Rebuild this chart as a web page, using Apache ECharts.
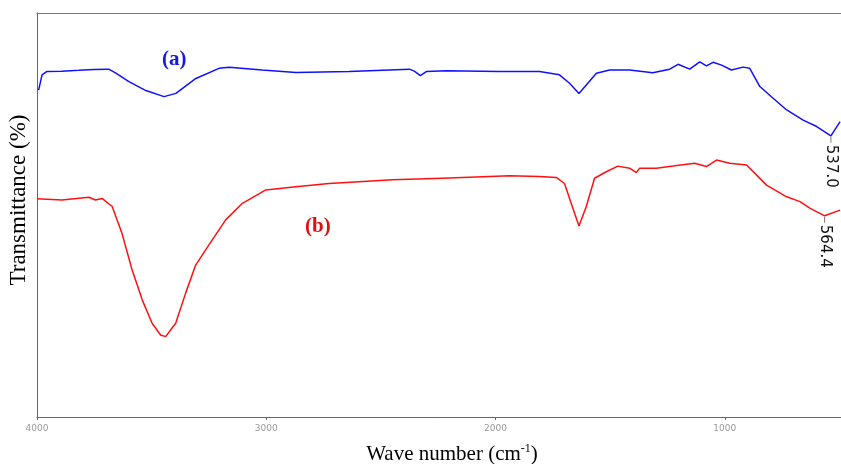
<!DOCTYPE html>
<html>
<head>
<meta charset="utf-8">
<script src="https://cdn.jsdelivr.net/npm/echarts@6/dist/echarts.min.js"></script>
<style>html,body{margin:0;padding:0;background:#fff;}#c{width:841px;height:464px;}</style>
</head>
<body>
<div id="c"></div>
<script>
// Wavenumber (cm-1) and transmittance (arbitrary %)
const waveA = [3993,3978,3958,3892,3818,3752,3687,3656,3599,3525,3446,3394,3307,3206,3162,3018,2870,2638,2376,2354,2328,2302,2214,1983,1808,1721,1677,1636,1604,1560,1502,1415,1314,1240,1204,1153,1109,1080,1051,1014,971,920,891,847,789,730,658,599,537,497];
const transA = [80.9,84.7,85.5,85.6,85.8,86.0,86.1,85.1,83.0,80.8,79.3,80.1,83.8,86.3,86.6,85.9,85.3,85.5,86.1,85.6,84.5,85.5,85.7,85.5,85.5,84.7,82.6,80.1,82.2,85.1,85.9,85.9,85.2,86.1,87.3,86.1,87.9,86.9,87.8,87.1,85.9,86.6,86.3,81.8,78.9,76.0,73.5,71.9,69.6,73.1];
const waveB = [4000,3891,3774,3745,3716,3672,3629,3585,3541,3498,3461,3439,3395,3352,3308,3250,3177,3104,3002,2871,2726,2669,2450,2232,1939,1808,1735,1699,1670,1636,1604,1568,1517,1466,1415,1386,1371,1298,1226,1131,1080,1036,978,905,818,730,672,629,564.4,497];
const transB = [54.0,53.7,54.4,53.7,54.1,52.1,45.4,36.4,29.0,23.2,20.3,19.9,23.2,30.6,37.6,42.6,48.8,52.9,56.2,57.0,57.8,58.0,58.7,59.1,59.7,59.5,59.3,57.8,52.9,47.3,52.1,59.1,60.7,62.1,61.6,60.5,61.6,61.6,62.1,62.8,62.0,63.6,62.8,62.4,57.4,54.5,53.3,51.7,49.8,51.2];
const xTicks = [4000,3000,2000,1000];
const peakA = {wave: 537.0, label: '537.0'};
const peakB = {wave: 564.4, label: '564.4'};
const seriesNames = ['(a)','(b)'];
const xTitle = 'Wave number (cm{sup|-1})';
const yTitle = 'Transmittance (%)';

function pairs(w, t){ return w.map((v,i)=>[v,t[i]]); }
function peakPoint(wave, trans, p){
  const i = wave.indexOf(p.wave);
  return {
    coord: [p.wave, trans[i]],
    symbol: 'rect', symbolSize: [1, 6], symbolOffset: [0, 4],
    itemStyle: {color: '#777'},
    label: {
      show: true, formatter: p.label, position: 'bottom', distance: 2,
      rotate: -90, align: 'left', verticalAlign: 'middle',
      fontFamily: 'DejaVu Sans', fontSize: 15, color: '#111'
    }
  };
}

const chart = echarts.init(document.getElementById('c'), null, {renderer: 'canvas'});
chart.setOption({
  animation: false,
  backgroundColor: '#fff',
  grid: {left: 37, right: 0, top: 13, bottom: 47, show: false},
  xAxis: [{
    type: 'value', inverse: true, min: 493, max: 4000,
    axisLine: {show: true, lineStyle: {color: '#666', width: 1}},
    axisTick: {show: true, length: 3, inside: false, customValues: xTicks, lineStyle: {color: '#666'}},
    axisLabel: {customValues: xTicks, formatter: v => String(v), fontFamily: 'DejaVu Sans', fontSize: 9, color: '#999', margin: 7},
    splitLine: {show: false}
  }, {
    type: 'value', inverse: true, min: 493, max: 4000, position: 'top',
    axisLine: {show: true, lineStyle: {color: '#777', width: 1}},
    axisTick: {show: false}, axisLabel: {show: false}, splitLine: {show: false}
  }],
  yAxis: {
    type: 'value', min: 0, max: 100,
    axisLine: {show: true, lineStyle: {color: '#666'}},
    axisTick: {show: false}, axisLabel: {show: false}, splitLine: {show: false}
  },
  series: [
    {name: seriesNames[0], type: 'line', data: pairs(waveA, transA), showSymbol: false,
     lineStyle: {color: '#1010ff', width: 1.5}, itemStyle: {color: '#1010ff'},
     markPoint: {data: [peakPoint(waveA, transA, peakA)]}},
    {name: seriesNames[1], type: 'line', data: pairs(waveB, transB), showSymbol: false,
     lineStyle: {color: '#ff1010', width: 1.5}, itemStyle: {color: '#ff1010'},
     markPoint: {data: [peakPoint(waveB, transB, peakB)]}}
  ],
  graphic: [
    {type: 'text', left: 162, top: 49, style: {text: seriesNames[0], fontFamily: 'Liberation Serif', fontWeight: 'bold', fontSize: 21, fill: '#1818e0'}},
    {type: 'text', left: 305, top: 216, style: {text: seriesNames[1], fontFamily: 'Liberation Serif', fontWeight: 'bold', fontSize: 21, fill: '#e01010'}},
    {type: 'text', x: 452, y: 454, style: {text: xTitle, align: 'center', verticalAlign: 'middle',
      fontFamily: 'Liberation Serif', fontSize: 21, fill: '#000',
      rich: {sup: {fontFamily: 'Liberation Serif', fontSize: 12, fill: '#000', padding: [0,0,10,0]}}}},
    {type: 'text', x: 19, y: 200, rotation: Math.PI / 2, style: {text: yTitle, align: 'center', verticalAlign: 'middle',
      fontFamily: 'Liberation Serif', fontSize: 23, fill: '#000'}}
  ]
});
</script>
</body>
</html>
